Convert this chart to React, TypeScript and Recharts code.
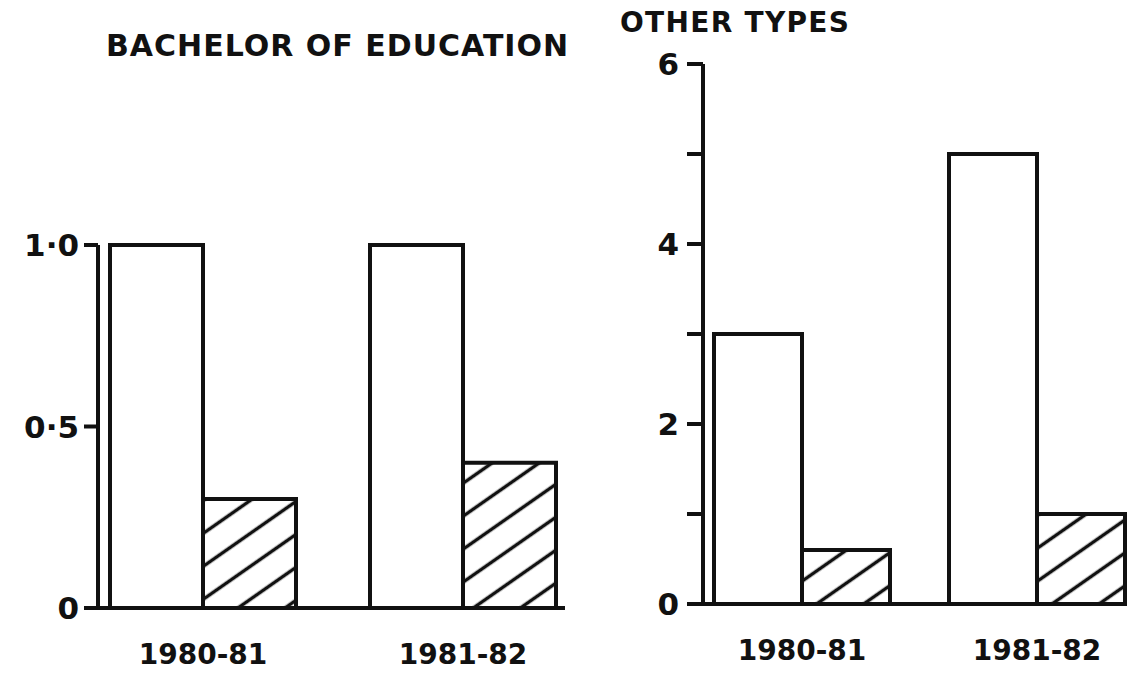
import React from 'react';
import { BarChart, Bar, XAxis, YAxis } from 'recharts';

const categories = ['1980-81', '1981-82'];
const bedTotal = [1.0, 1.0];
const bedHatched = [0.3, 0.4];
const otherTotal = [3, 5];
const otherHatched = [0.6, 1.0];
const bedTicks = [0, 0.5, 1];
const bedTickLabels = ['0', '0·5', '1·0'];
const otherTicks = [0, 1, 2, 3, 4, 5, 6];
const otherTickLabels = ['0', '', '2', '', '4', '', '6'];

const bedData = categories.map((c, i) => ({ name: c, total: bedTotal[i], hatched: bedHatched[i] }));
const otherData = categories.map((c, i) => ({ name: c, total: otherTotal[i], hatched: otherHatched[i] }));

const FONT = '"DejaVu Sans", sans-serif';
const INK = '#111';

const xTickStyle = { fontFamily: FONT, fontSize: 28, fontWeight: 700, fill: INK };
const yTickStyle = { fontFamily: FONT, fontSize: 31, fontWeight: 700, fill: INK };

export default function App() {
  return (
    <div style={{ position: 'absolute', left: 0, top: 0, width: 1130, height: 680, background: '#fff', overflow: 'hidden' }}>
      <svg width={0} height={0} style={{ position: 'absolute' }}>
        <defs>
          <pattern id="hatch" patternUnits="userSpaceOnUse" width={27} height={27} patternTransform="rotate(-35)">
            <rect x={0} y={0} width={27} height={27} fill="#fff" />
            <line x1={0} y1={13.5} x2={27} y2={13.5} stroke={INK} strokeWidth={3.5} />
          </pattern>
        </defs>
      </svg>

      <div style={{ position: 'absolute', left: 106, top: 28, fontFamily: FONT, fontWeight: 700, fontSize: 30, color: INK, letterSpacing: 1, whiteSpace: 'nowrap' }}>
        BACHELOR OF EDUCATION
      </div>
      <div style={{ position: 'absolute', left: 620, top: 6, fontFamily: FONT, fontWeight: 700, fontSize: 28, color: INK, letterSpacing: 1.3, whiteSpace: 'nowrap' }}>
        OTHER TYPES
      </div>

      <div style={{ position: 'absolute', left: 0, top: 0 }}>
        <BarChart width={620} height={680} data={bedData} margin={{ top: 245, right: 55, bottom: 12, left: 0 }}
          barCategoryGap={37} barGap={0}>
          <XAxis dataKey="name" padding={{ left: -25, right: -28 }} tickLine={false} tickSize={0} tickMargin={36}
            axisLine={{ stroke: INK, strokeWidth: 4 }} height={60} tick={xTickStyle} />
          <YAxis type="number" domain={[0, 1]} ticks={bedTicks} width={98} tickSize={14} tickMargin={5}
            tickFormatter={(v: number) => bedTickLabels[bedTicks.indexOf(v)] ?? ''}
            axisLine={{ stroke: INK, strokeWidth: 4 }} tickLine={{ stroke: INK, strokeWidth: 4 }} tick={yTickStyle} />
          <Bar dataKey="total" fill="#fff" stroke={INK} strokeWidth={4} isAnimationActive={false} />
          <Bar dataKey="hatched" fill="url(#hatch)" stroke={INK} strokeWidth={4} isAnimationActive={false} />
        </BarChart>
      </div>

      <div style={{ position: 'absolute', left: 620, top: 0 }}>
        <BarChart width={510} height={680} data={otherData} margin={{ top: 64, right: 5, bottom: 16, left: 0 }}
          barCategoryGap={29.5} barGap={0}>
          <XAxis dataKey="name" padding={{ left: -18.5, right: -29.5 }} tickLine={false} tickSize={0} tickMargin={36}
            axisLine={{ stroke: INK, strokeWidth: 4 }} height={60} tick={xTickStyle} />
          <YAxis type="number" domain={[0, 6]} ticks={otherTicks} width={83} tickSize={16} tickMargin={8}
            tickFormatter={(v: number) => otherTickLabels[otherTicks.indexOf(v)] ?? ''}
            axisLine={{ stroke: INK, strokeWidth: 4 }} tickLine={{ stroke: INK, strokeWidth: 4 }} tick={yTickStyle} />
          <Bar dataKey="total" fill="#fff" stroke={INK} strokeWidth={4} isAnimationActive={false} />
          <Bar dataKey="hatched" fill="url(#hatch)" stroke={INK} strokeWidth={4} isAnimationActive={false} />
        </BarChart>
      </div>
    </div>
  );
}
